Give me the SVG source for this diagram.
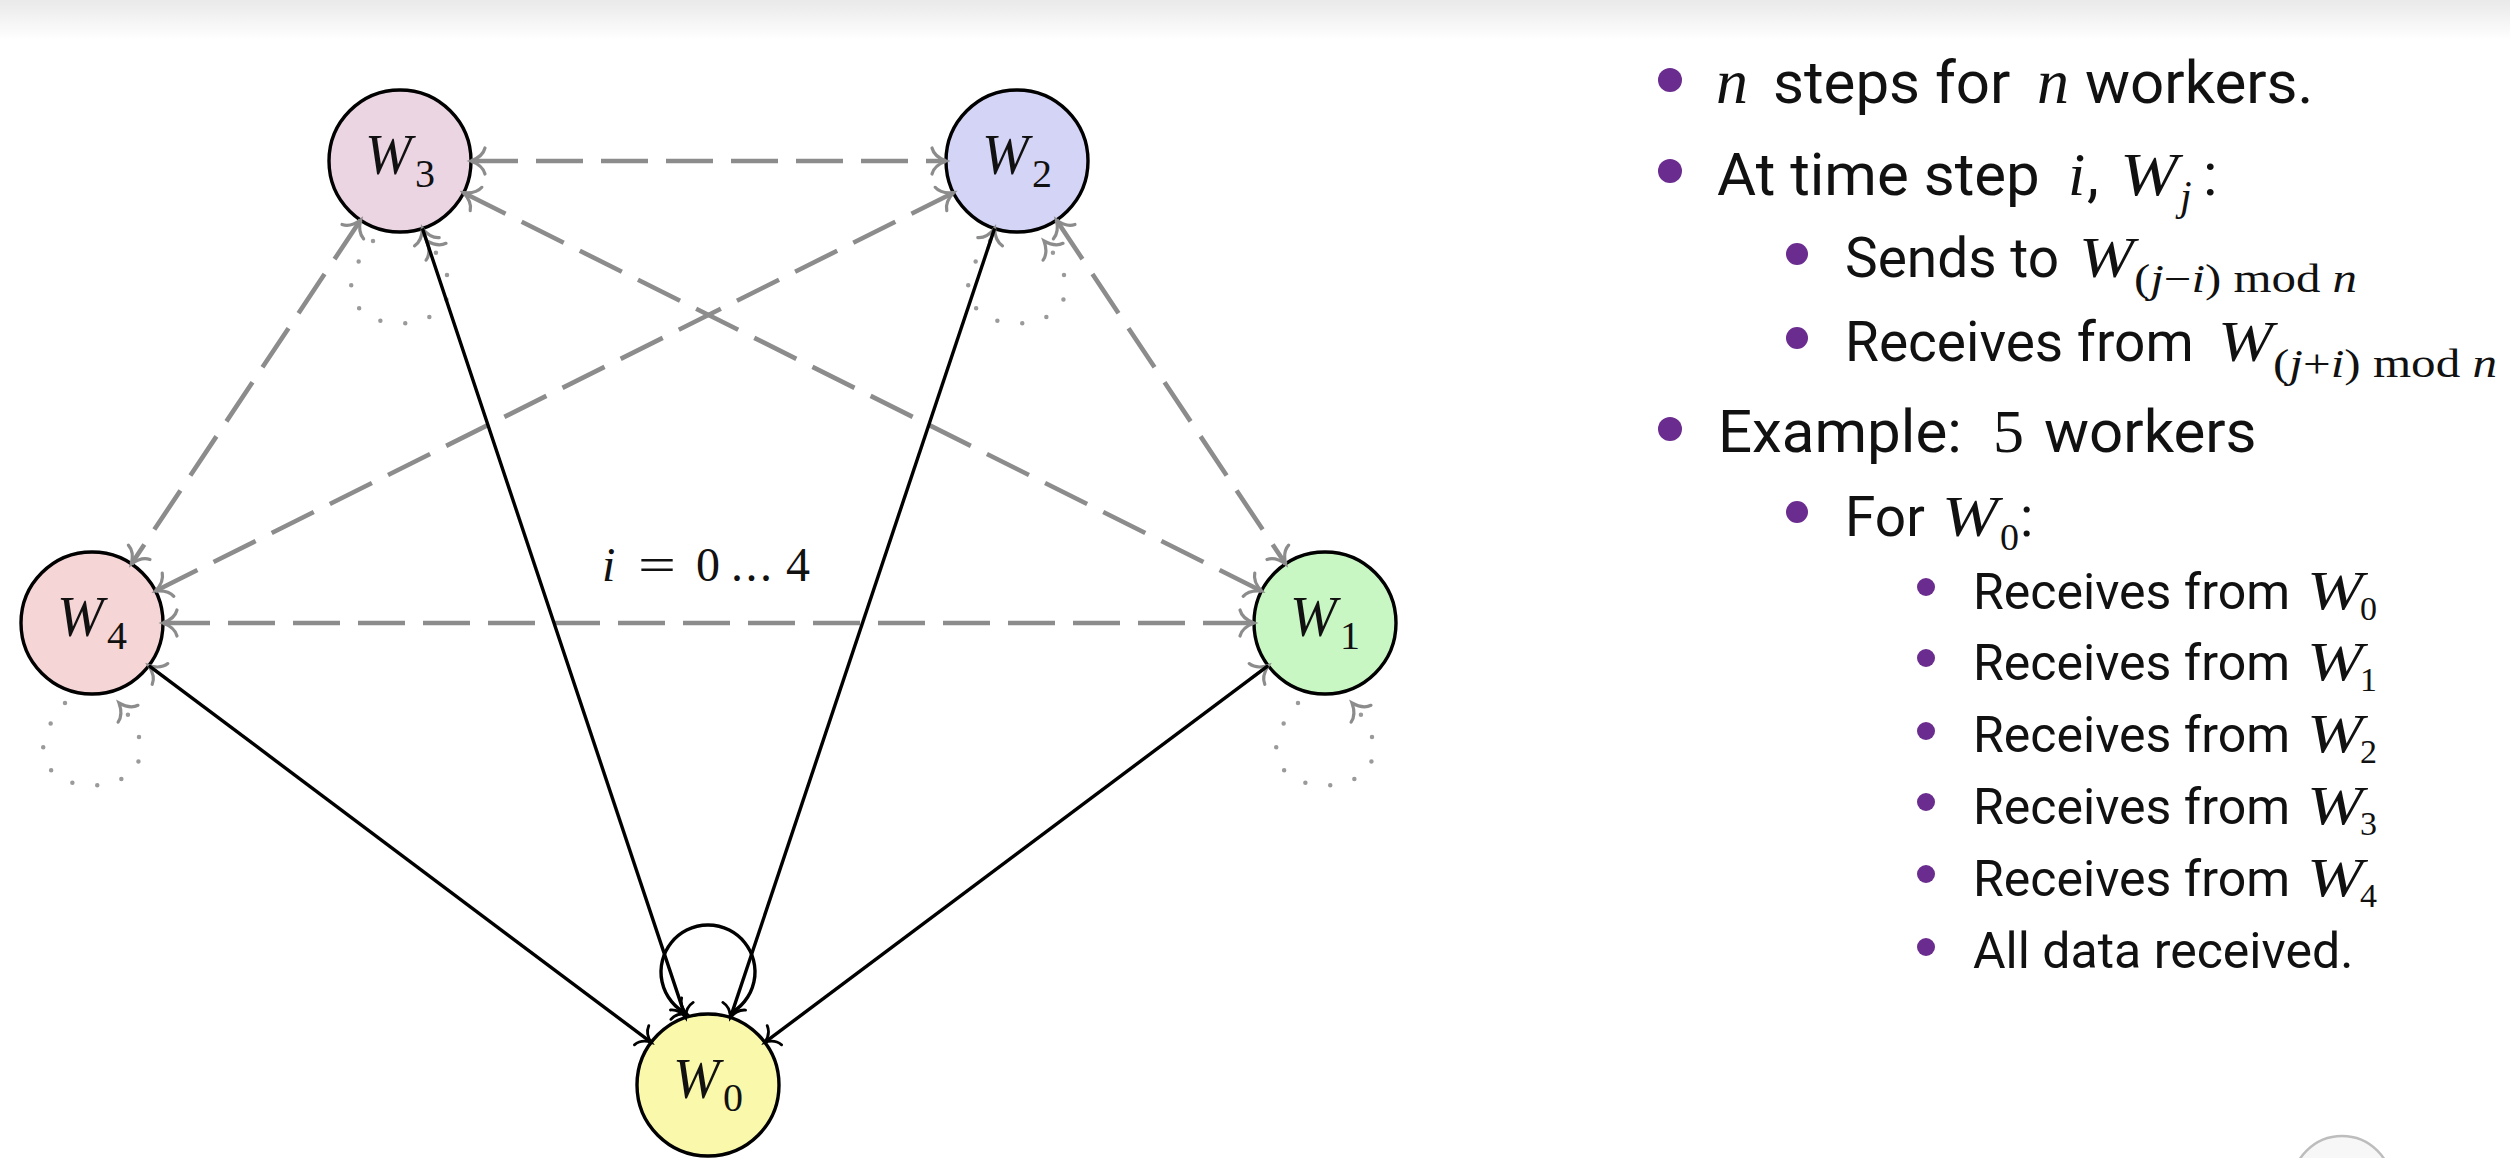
<svg xmlns="http://www.w3.org/2000/svg" width="2510" height="1158" viewBox="0 0 2510 1158">
<defs>
<linearGradient id="topband" x1="0" y1="0" x2="0" y2="1">
<stop offset="0" stop-color="#e9e9e9"/>
<stop offset="1" stop-color="#ffffff"/>
</linearGradient>
<marker id="ag" viewBox="-16 -16 20 32" refX="0" refY="0" markerWidth="20" markerHeight="32" markerUnits="userSpaceOnUse" orient="auto-start-reverse" overflow="visible">
<path d="M -14 -13 C -12 -5 -4 -1.5 0 0 C -4 1.5 -12 5 -14 13" fill="none" stroke="#8c8c8c" stroke-width="3.2" stroke-linecap="round"/>
</marker>
<marker id="ab" viewBox="-16 -16 20 32" refX="0" refY="0" markerWidth="20" markerHeight="32" markerUnits="userSpaceOnUse" orient="auto-start-reverse" overflow="visible">
<path d="M -12 -12 C -10 -4 -3 -1 0 0 C -3 1 -10 4 -12 12" fill="none" stroke="#000" stroke-width="2.8" stroke-linecap="round"/>
</marker>
</defs>
<style>
.node{stroke:#000;stroke-width:3.4}
.m{font-family:"Liberation Serif","Times New Roman",serif;font-style:italic;fill:#111}
.r{font-family:"Liberation Serif","Times New Roman",serif;font-style:normal;fill:#111}
.i{font-style:italic}
.lab{font-size:56px}
.sub{font-size:40px}
.dg{fill:none;stroke:#8c8c8c;stroke-width:4.6;stroke-dasharray:47 18;marker-start:url(#ag);marker-end:url(#ag)}
.hg{fill:none;stroke:#8c8c8c;stroke-width:3;marker-end:url(#ag)}
.sb{fill:none;stroke:#000;stroke-width:3.4;marker-end:url(#ab)}
.dl{fill:none;stroke:#9a9a9a;stroke-width:4.5;stroke-dasharray:0 25;stroke-linecap:round;marker-end:url(#ag)}
.t{font-family:Roboto,"Liberation Sans",Arial,sans-serif;fill:#111}
.l1{font-size:60px}
.l2{font-size:55px}
.l3{font-size:50px}
.bul{fill:#6a2c8e}
</style>
<rect x="0" y="0" width="2510" height="1158" fill="#ffffff"/>
<rect x="0" y="0" width="2510" height="40" fill="url(#topband)"/>
<circle cx="2342" cy="1186" r="50" fill="#f7f7f7" stroke="#bdbdbd" stroke-width="2.5"/>

<g id="W3">
<circle class="node" cx="400" cy="161" r="71" fill="#ecd5e3"/>
<text class="m lab" x="365" y="174">W</text><text class="r sub" x="415" y="187">3</text>
</g>
<g id="W2">
<circle class="node" cx="1017" cy="161" r="71" fill="#d4d4f7"/>
<text class="m lab" x="982" y="174">W</text><text class="r sub" x="1032" y="187">2</text>
</g>
<g id="W4">
<circle class="node" cx="92" cy="623" r="71" fill="#f6d5d6"/>
<text class="m lab" x="57" y="636">W</text><text class="r sub" x="107" y="649">4</text>
</g>
<g id="W1">
<circle class="node" cx="1325" cy="623" r="71" fill="#c9f7c4"/>
<text class="m lab" x="1290" y="636">W</text><text class="r sub" x="1340" y="649">1</text>
</g>
<g id="W0">
<circle class="node" cx="708" cy="1085" r="71" fill="#f9f8ab"/>
<text class="m lab" x="673" y="1098">W</text><text class="r sub" x="723" y="1111">0</text>
</g>

<g id="connectors">
<path class="dg" d="M 471 161 L 946 161"/>
<path class="dg" d="M 163 623 L 1254 623"/>
<path class="dg" d="M 463.5 192.7 L 1261.5 591"/>
<path class="dg" d="M 953.5 192.7 L 155.5 591"/>
<path class="dg" d="M 360.6 220 L 131.4 564"/>
<path class="dg" d="M 1056.4 220 L 1285.6 564"/>
<path class="dl" d="M 373 241 C 280 351 520 351 427 241"/>
<path class="dl" d="M 990 241 C 897 351 1137 351 1044 241"/>
<path class="dl" d="M 65 703 C -28 813 212 813 119 703"/>
<path class="dl" d="M 1298 703 C 1205 813 1445 813 1352 703"/>
<path class="hg" d="M 429.4 249.3 L 422.4 228.4"/>
<path class="hg" d="M 987.6 249.3 L 994.6 228.4"/>
<path class="hg" d="M 166.4 678.8 L 148.8 665.6"/>
<path class="hg" d="M 1250.6 678.8 L 1268.2 665.6"/>
<path class="sb" d="M 148.8 665.6 L 651.2 1042.4"/>
<path class="sb" d="M 422.4 228.4 L 685.6 1017.6"/>
<path class="sb" d="M 994.6 228.4 L 730.4 1017.6"/>
<path class="sb" d="M 1268.2 665.6 L 764.8 1042.4"/>
<path class="sb" d="M 729 1014 A 47 47 0 1 0 687 1014"/>
</g>

<g id="label">
<text class="m" x="602" y="581" font-size="48">i</text>
<text class="r" x="638" y="581" font-size="48" textLength="38" lengthAdjust="spacingAndGlyphs">=</text>
<text class="r" x="696" y="581" font-size="48">0</text>
<text class="r" x="731" y="581" font-size="48" textLength="41" lengthAdjust="spacing">...</text>
<text class="r" x="786" y="581" font-size="48">4</text>
</g>

<g id="bullets">
<circle class="bul" cx="1670" cy="80" r="12"/>
<text class="t l1" y="103"><tspan class="m" font-size="64" x="1716">n</tspan><tspan x="1773">steps for</tspan><tspan class="m" font-size="64" x="2037">n</tspan><tspan x="2085">workers.</tspan></text>

<circle class="bul" cx="1670" cy="171" r="12"/>
<text class="t l1" y="195"><tspan x="1717">At time step</tspan><tspan class="m" font-size="62" x="2068">i</tspan><tspan x="2087">,</tspan></text>
<text class="m" x="2120" y="195" font-size="62" textLength="58" lengthAdjust="spacingAndGlyphs">W</text>
<text class="m" x="2180" y="210" font-size="42">j</text>
<text class="t l1" x="2203" y="195">:</text>

<circle class="bul" cx="1797" cy="254" r="11"/>
<text class="t l2" x="1845" y="277">Sends to</text>
<text class="m" x="2079" y="277" font-size="58" textLength="55" lengthAdjust="spacingAndGlyphs">W</text>
<text class="r" x="2134" y="292" font-size="40" textLength="223" lengthAdjust="spacingAndGlyphs">(<tspan class="i">j</tspan>−<tspan class="i">i</tspan>) mod <tspan class="i">n</tspan></text>

<circle class="bul" cx="1797" cy="338" r="11"/>
<text class="t l2" x="1845" y="361">Receives from</text>
<text class="m" x="2218" y="361" font-size="58" textLength="55" lengthAdjust="spacingAndGlyphs">W</text>
<text class="r" x="2273" y="377" font-size="40" textLength="224" lengthAdjust="spacingAndGlyphs">(<tspan class="i">j</tspan>+<tspan class="i">i</tspan>) mod <tspan class="i">n</tspan></text>

<circle class="bul" cx="1670" cy="429" r="12"/>
<text class="t l1" y="452"><tspan x="1718">Example:</tspan><tspan class="r" font-size="62" x="1993">5</tspan><tspan x="2044">workers</tspan></text>

<circle class="bul" cx="1797" cy="512" r="11"/>
<text class="t l2" x="1845" y="536">For</text>
<text class="m" x="1942" y="536" font-size="58" textLength="56" lengthAdjust="spacingAndGlyphs">W</text>
<text class="r" x="2000" y="550" font-size="38">0</text>
<text class="t l2" x="2020" y="536">:</text>

<circle class="bul" cx="1926" cy="587" r="9"/>
<text class="t l3" x="1973" y="609">Receives from</text>
<text class="m" x="2307" y="609" font-size="54" textLength="56" lengthAdjust="spacingAndGlyphs">W</text>
<text class="r" x="2360" y="620" font-size="34">0</text>

<circle class="bul" cx="1926" cy="658" r="9"/>
<text class="t l3" x="1973" y="680">Receives from</text>
<text class="m" x="2307" y="680" font-size="54" textLength="56" lengthAdjust="spacingAndGlyphs">W</text>
<text class="r" x="2360" y="691" font-size="34">1</text>

<circle class="bul" cx="1926" cy="731" r="9"/>
<text class="t l3" x="1973" y="752">Receives from</text>
<text class="m" x="2307" y="752" font-size="54" textLength="56" lengthAdjust="spacingAndGlyphs">W</text>
<text class="r" x="2360" y="763" font-size="34">2</text>

<circle class="bul" cx="1926" cy="802" r="9"/>
<text class="t l3" x="1973" y="824">Receives from</text>
<text class="m" x="2307" y="824" font-size="54" textLength="56" lengthAdjust="spacingAndGlyphs">W</text>
<text class="r" x="2360" y="835" font-size="34">3</text>

<circle class="bul" cx="1926" cy="874" r="9"/>
<text class="t l3" x="1973" y="896">Receives from</text>
<text class="m" x="2307" y="896" font-size="54" textLength="56" lengthAdjust="spacingAndGlyphs">W</text>
<text class="r" x="2360" y="907" font-size="34">4</text>

<circle class="bul" cx="1926" cy="947" r="9"/>
<text class="t l3" x="1973" y="968">All data received.</text>
</g>
</svg>
